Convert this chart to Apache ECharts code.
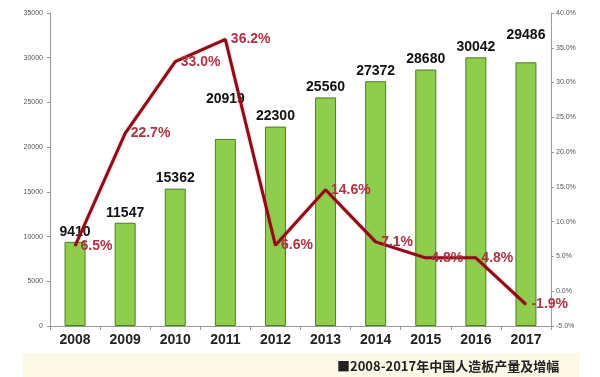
<!DOCTYPE html>
<html><head><meta charset="utf-8">
<script src="https://cdn.jsdelivr.net/npm/echarts@6/dist/echarts.min.js"></script>
<style>html,body{margin:0;padding:0;background:#fff}#c{width:600px;height:377px}</style>
</head><body><div id="c"></div>
<script>
var categories = ['2008','2009','2010','2011','2012','2013','2014','2015','2016','2017'];
var production = [9410, 11547, 15362, 20919, 22300, 25560, 27372, 28680, 30042, 29486];
var growth = [6.5, 22.7, 33.0, 36.2, 6.6, 14.6, 7.1, 4.8, 4.8, -1.9];
var leftTicks = {min: 0, max: 35000, interval: 5000};
var rightTicks = {min: -5, max: 40, interval: 5};
var caption = '■2008-2017年中国人造板产量及增幅';

var extraDist = {3: 30, 9: 17};
var barData = production.map(function (v, i) {
  var d = {value: v};
  if (extraDist[i]) d.label = {distance: 3 + extraDist[i]};
  return d;
});

var chart = echarts.init(document.getElementById('c'));
chart.setOption({
  animation: false,
  backgroundColor: '#fff',
  graphic: [{
    type: 'rect', z: -10, silent: true,
    shape: {x: 23, y: 353, width: 557, height: 24},
    style: {fill: '#fcfae6'}
  }, {
    type: 'text', left: 337, top: 360,
    style: {text: caption, fill: '#222', font: 'bold 13px "Noto Sans CJK SC", sans-serif'}
  }],
  grid: {left: 50, right: 49, top: 13, bottom: 51},
  xAxis: {
    type: 'category', data: categories,
    axisLine: {lineStyle: {color: '#999'}},
    axisTick: {show: true, length: 4, lineStyle: {color: '#999'}},
    axisLabel: {margin: 7, color: '#222', fontSize: 14, fontWeight: 'bold', fontFamily: 'Liberation Sans, Arial, sans-serif'}
  },
  yAxis: [{
    type: 'value', min: leftTicks.min, max: leftTicks.max, interval: leftTicks.interval,
    axisLine: {show: true, lineStyle: {color: '#999'}},
    axisTick: {show: true, length: 3, lineStyle: {color: '#999'}},
    splitLine: {show: false},
    axisLabel: {color: '#555', fontSize: 7, margin: 7, fontFamily: 'Liberation Sans, Arial, sans-serif',
      formatter: function (v) { return String(v); }}
  }, {
    type: 'value', min: rightTicks.min, max: rightTicks.max, interval: rightTicks.interval,
    axisLine: {show: true, lineStyle: {color: '#999'}},
    axisTick: {show: true, length: 3, lineStyle: {color: '#999'}},
    splitLine: {show: false},
    axisLabel: {color: '#555', fontSize: 7, margin: 5, fontFamily: 'Liberation Sans, Arial, sans-serif',
      formatter: function (v) { return v.toFixed(1) + '%'; }}
  }],
  series: [{
    type: 'bar', data: barData, barWidth: 21, yAxisIndex: 0,
    itemStyle: {color: '#8fcd4c', borderColor: '#4f7d25', borderWidth: 1},
    label: {show: true, position: 'top', distance: 3, color: '#111', fontSize: 14, fontWeight: 'bold',
      fontFamily: 'Liberation Sans, Arial, sans-serif'}
  }, {
    type: 'line', data: growth, yAxisIndex: 1, symbol: 'circle', symbolSize: 1, showSymbol: true, z: 5,
    itemStyle: {color: '#8e0c18'},
    lineStyle: {color: '#8e0c18', width: 3, shadowColor: 'rgba(220,90,110,0.6)', shadowBlur: 2},
    label: {show: true, position: 'right', distance: 5, color: '#ad3344', fontSize: 14, fontWeight: 'bold',
      fontFamily: 'Liberation Sans, Arial, sans-serif',
      formatter: function (p) { return Number(p.value).toFixed(1) + '%'; }}
  }]
});
</script></body></html>
